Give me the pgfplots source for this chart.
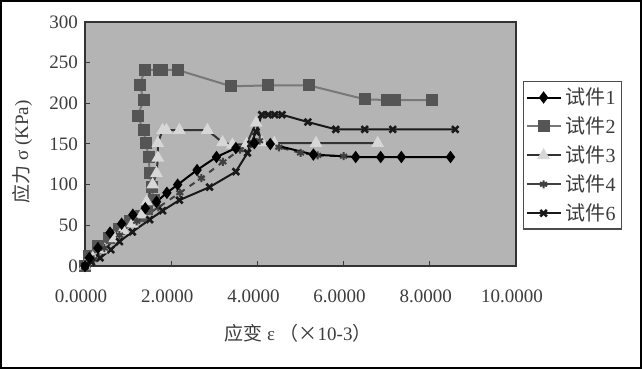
\documentclass[border=0pt]{standalone}
\usepackage{fontspec}
\setmainfont{Liberation Serif}
\newfontfamily\cjk{Noto Sans CJK SC}
\usepackage{pgfplots}
\pgfplotsset{compat=1.18}
\definecolor{plotgray}{RGB}{180,180,180}
\definecolor{sqgray}{RGB}{85,85,85}
\definecolor{sqline}{RGB}{120,120,120}
\definecolor{trigray}{RGB}{215,215,215}
\definecolor{txtgray}{RGB}{60,60,60}
\begin{document}
\begin{tikzpicture}
\useasboundingbox (0pt,0pt) rectangle (321pt,184.5pt);
\draw[line width=1.2pt] (0.6pt,0.6pt) rectangle (320.4pt,183.9pt);
\begin{axis}[
  at={(42.5pt,51.5pt)}, anchor=south west,
  width=215.5pt, height=122pt, scale only axis,
  xmin=0, xmax=10, ymin=0, ymax=300,
  xtick={0,2,4,6,8,10},
  xticklabels={0.0000,2.0000,4.0000,6.0000,8.0000,10.0000},
  ytick={0,50,100,150,200,250,300},
  tick pos=left,
  major tick length=2.5pt,
  tick style={color=txtgray, line width=0.5pt},
  axis line style={color=gray!40!black, line width=0.9pt},
  axis background/.style={fill=plotgray},
  /pgf/number format/assume math mode=true,
  ticklabel style={font=\fontsize{9.5}{11}\selectfont, text=txtgray},
  xticklabel style={yshift=-8.5pt, xshift=-2pt},
  xlabel={{\cjk 应变} ε {\cjk （×}10-3{\cjk ）}},
  ylabel={{\cjk 应力} σ (KPa)},
  label style={font=\fontsize{9.5}{11}\selectfont, text=txtgray},
  xlabel style={at={(axis description cs:0.494,-0.275)}, anchor=center},
  ylabel style={at={(axis description cs:-0.146,0.467)}, anchor=center},
  every axis plot/.append style={line width=1pt},
]
\addplot[color=sqline, mark=square*, mark size=2.5pt, mark options={fill=sqgray, draw=sqgray}] coordinates {
(0,0) (0.1,12) (0.3,25) (0.55,35) (0.8,45) (1.05,55) (1.3,62) (1.45,70) (1.59,81) (1.55,97) (1.5,114) (1.48,134) (1.41,151) (1.36,167) (1.22,184) (1.36,204) (1.27,223) (1.39,241) (1.71,241) (1.78,241) (2.15,241) (3.39,221) (4.25,222) (5.2,222) (6.49,205) (7.0,204) (7.2,204) (8.04,204)
};
\addplot[color=black!80, mark=triangle*, mark size=2.7pt, mark options={fill=trigray, draw=trigray}] coordinates {
(0,0) (0.18,10) (0.46,20) (0.69,34) (0.88,44) (1.1,52) (1.32,63) (1.43,79) (1.57,100) (1.66,114) (1.69,133) (1.69,151) (1.8,167) (1.89,167) (2.19,167) (2.84,167) (3.19,152) (3.42,149) (3.75,150) (3.97,176) (4.1,152) (4.39,151) (5.36,151) (6.79,151)
};
\addplot[color=black!75, dashed, mark=asterisk, mark size=2pt, mark options={solid}] coordinates {
(0,0) (0.2,8) (0.45,22) (0.8,38) (1.2,55) (1.7,72) (2.2,90) (2.7,108) (3.2,128) (3.6,143) (3.85,150) (4.05,154) (4.5,146) (5.0,139) (5.4,136) (6.0,135)
};
\addplot[color=black!90, mark=x, mark size=2.3pt, mark options={line width=1.3pt}] coordinates {
(0,0) (0.15,5) (0.35,10) (0.6,20) (0.8,30) (1.1,42) (1.5,57) (1.8,68) (2.19,81) (2.89,97) (3.5,116) (3.77,139) (3.85,150) (3.97,165) (4.1,186) (4.25,186) (4.4,186) (4.57,186) (5.17,177) (5.82,168) (6.49,168) (7.14,168) (8.59,168)
};
\addplot[color=black, mark=diamond*, mark size=2.3pt] coordinates {
(0,0) (0.1,10) (0.3,22) (0.58,41) (0.85,52) (1.11,63) (1.4,71) (1.66,79) (1.9,90) (2.15,100) (2.6,118) (3.05,134) (3.5,145) (3.93,151) (4.3,150) (5.3,137) (6.28,134) (6.86,134) (7.34,134) (8.48,134)
};
\end{axis}
\begin{axis}[
  at={(42.5pt,51.5pt)}, anchor=south west,
  width=215.5pt, height=122pt, scale only axis,
  xmin=0, xmax=10, ymin=0, ymax=300, hide axis,
  legend style={at={(1.016,0.758)}, anchor=north west, draw=gray!60!black,
    line width=0.6pt, font=\fontsize{10}{12}\selectfont, inner sep=1pt,
    row sep=0.6pt, fill=white, text=txtgray},
  legend cell align=left,
  every axis plot/.append style={line width=1pt},
]
\addplot[color=black, mark=diamond*, mark size=2.3pt] coordinates {(20,0)};
\addlegendentry{{\cjk 试件}1}
\addplot[color=sqline, mark=square*, mark size=2.5pt, mark options={fill=sqgray, draw=sqgray}] coordinates {(20,0)};
\addlegendentry{{\cjk 试件}2}
\addplot[color=black!80, mark=triangle*, mark size=2.7pt, mark options={fill=trigray, draw=trigray}] coordinates {(20,0)};
\addlegendentry{{\cjk 试件}3}
\addplot[color=black!75, mark=asterisk, mark size=2pt] coordinates {(20,0)};
\addlegendentry{{\cjk 试件}4}
\addplot[color=black!90, mark=x, mark size=2.3pt, mark options={line width=1.3pt}] coordinates {(20,0)};
\addlegendentry{{\cjk 试件}6}
\end{axis}
\end{tikzpicture}
\end{document}
